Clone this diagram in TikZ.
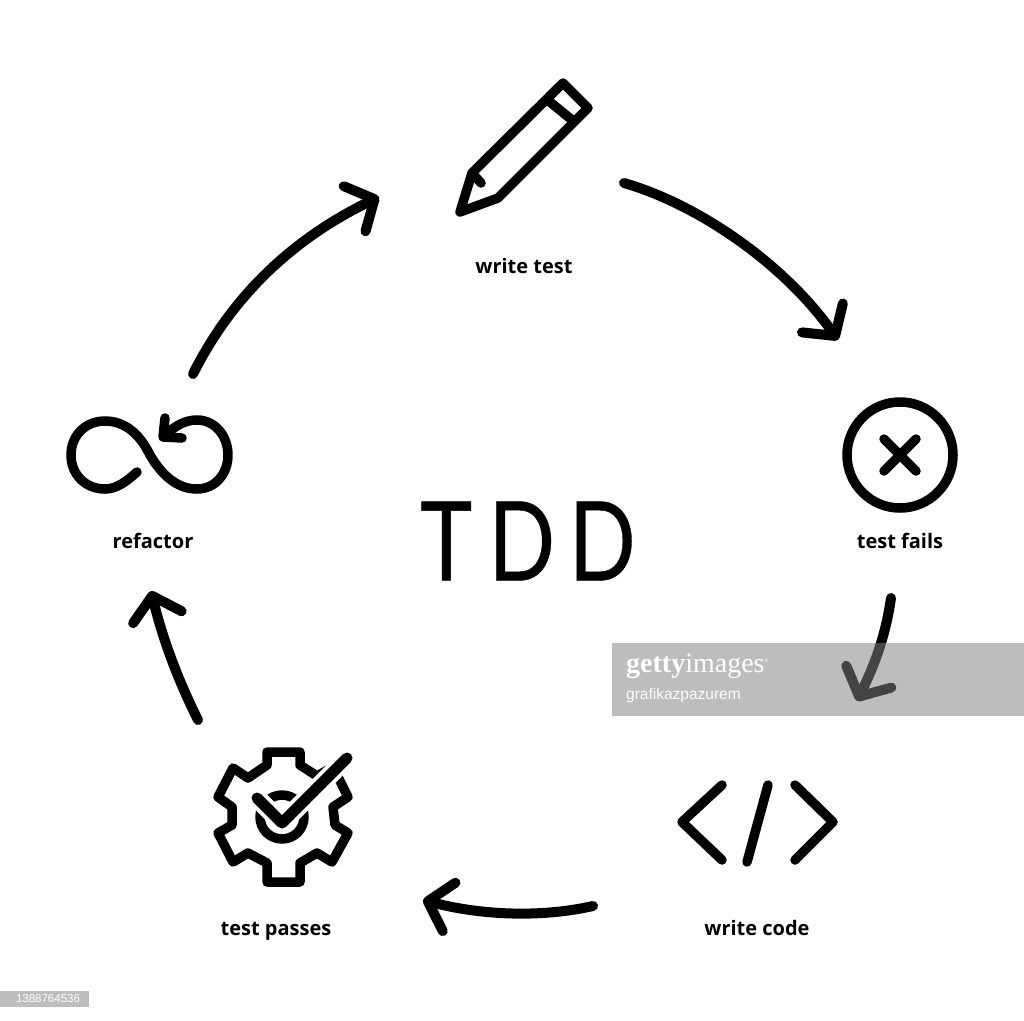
\documentclass[tikz,border=0pt]{standalone}
\usepackage{fontspec}
\usepackage{xcolor}
\usetikzlibrary{arrows.meta}
\setmainfont{Open Sans}
\newfontfamily\liftfont{Liberation Sans}
\newfontfamily\gettyfont{Liberation Serif}
\newfontfamily\titlefont[FakeBold=0.4]{Lato}
\definecolor{markgray}{RGB}{130,130,130}

\begin{document}
\begin{tikzpicture}[x=1pt,y=-1pt,
    icon/.style={line width=9.5pt,line cap=round,line join=round},
    flow/.style={line width=10pt,line cap=round,line join=round,-{Straight Barb[length=22pt,width=50pt,round]}},
    tag/.style={font=\fontsize{20}{24}\selectfont\bfseries,inner sep=0pt,anchor=base}]
    \useasboundingbox (0,0) rectangle (1024,1020);

    \coordinate (F1) at (624,183);
    \coordinate (F2) at (838,340);
    \coordinate (F3) at (891,598);
    \coordinate (F4) at (857,701);
    \coordinate (F5) at (593,906);
    \coordinate (F6) at (423,900);
    \coordinate (F7) at (198,720);
    \coordinate (F8) at (151,591);
    \coordinate (F9) at (193,374);
    \coordinate (F10) at (379,197);
    \draw[flow] (F1) .. controls (700,205) and (785,265) .. (F2);
    \draw[flow] (F3) .. controls (885,640) and (872,670) .. (F4);
    \draw[flow] (F5) .. controls (540,918) and (480,915) .. (F6);
    \draw[flow] (F7) .. controls (178,680) and (163,640) .. (F8);
    \draw[flow] (F9) .. controls (235,290) and (300,235) .. (F10);

    \draw[icon] (460,212)--(472,173)--(563,83)--(588,108)--(498,198)--cycle;
    \draw[icon] (550,102)--(572,120);
    \draw[icon] (472,173)--(481,183);

    \draw[icon] (900,455) circle (53pt);
    \draw[icon] (884,439)--(916,471);
    \draw[icon] (916,439)--(884,471);

    \draw[icon] (722,785)--(682,822)--(722,860);
    \draw[icon] (768,785)--(747,862);
    \draw[icon] (795,785)--(833,822)--(795,860);

    \draw[icon] (267,752)--(300,752)--(300,765)--(317,776)--(333,767)--(348,797)--(333,807)--(335,825)--(348,833)--(332,862)--(317,853)--(300,863)--(300,882)--(267,882)--(267,863)--(248,853)--(233,862)--(218,833)--(232,825)--(232,807)--(218,797)--(233,768)--(248,778)--(267,765)--cycle;
    \draw[icon] (282,817) circle (22pt);
    \draw[line width=19pt,white,line cap=round,line join=round] (257,798)--(282,823)--(347,758);
    \draw[line width=11pt,line cap=round,line join=round] (257,798)--(282,823)--(347,758);

    \draw[icon] (137,472) .. controls (126,482) and (116,489) .. (105,489) .. controls (85,489) and (71,474) .. (71,455) .. controls (71,436) and (85,421) .. (105,421) .. controls (132,421) and (145,445) .. (150,455) .. controls (160,472) and (175,489) .. (197,489) .. controls (215,489) and (228,474) .. (228,455) .. controls (228,436) and (215,420) .. (197,420) .. controls (185,420) and (175,426) .. (165,435);
    \draw[icon] (165,418)--(163,437)--(182,438);

    \node[tag] (WriteTest) at (524,273) {write test};
    \node[tag] (TestFails) at (900,548) {test fails};
    \node[tag] (WriteCode) at (757,935) {write code};
    \node[tag] (TestPasses) at (276,935) {test passes};
    \node[tag] (Refactor) at (153,548) {refactor};
    \node[inner sep=0pt,font=\titlefont\fontsize{110}{120}\selectfont,transform shape,xscale=0.8] (Title) at (528,541) {T\kern 20pt D\kern 17pt D};

    \fill[markgray,opacity=0.525] (612,643) rectangle (1024,716);
    \fill[markgray,opacity=0.525] (0,991) rectangle (89,1007);
    \node[inner sep=0pt,anchor=base west,white,font=\gettyfont\fontsize{28}{32}\selectfont] (Getty) at (626,672) {\textbf{getty}images\raisebox{10pt}{\fontsize{5}{6}\selectfont ®}};
    \node[inner sep=0pt,anchor=base west,white,font=\liftfont\fontsize{15.5}{20}\selectfont] (Owner) at (626,699) {grafikazpazurem};
    \node[inner sep=0pt,white,font=\liftfont\fontsize{11.5}{14}\selectfont] (StockId) at (48,999) {1388764536};
\end{tikzpicture}
\end{document}
